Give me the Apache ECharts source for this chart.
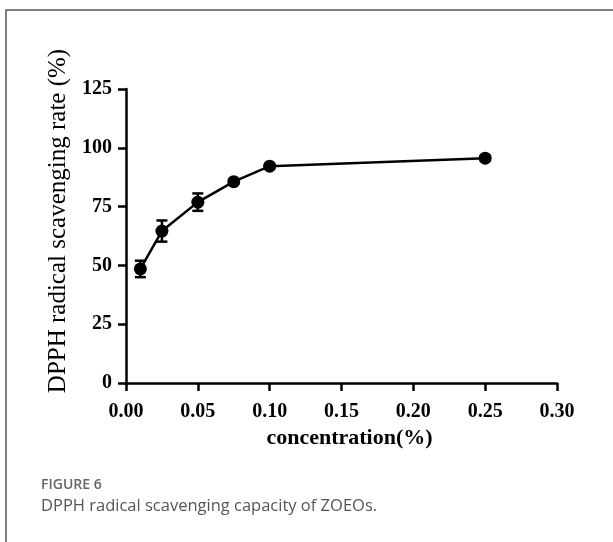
<!DOCTYPE html>
<html><head><meta charset="utf-8">
<script src="https://cdn.jsdelivr.net/npm/echarts@6/dist/echarts.min.js"></script>
<style>html,body{margin:0;padding:0;background:#fff}#c{width:613px;height:542px}</style>
</head><body><div id="c"></div>
<script>
const concentrations = [0.01, 0.025, 0.05, 0.075, 0.1, 0.25];
const scavengingRate = [48.5, 64.6, 76.9, 85.6, 92.2, 95.6];
const errorSD = [3.5, 4.5, 3.7, 1.0, 1.0, 1.0];
const xTicks = ['0.00','0.05','0.10','0.15','0.20','0.25','0.30'];
const yTicks = [0, 25, 50, 75, 100, 125];

const chart = echarts.init(document.getElementById('c'));
const pts = concentrations.map((x,i)=>[x, scavengingRate[i]]);
const errs = concentrations.map((x,i)=>[x, scavengingRate[i]-errorSD[i], scavengingRate[i]+errorSD[i]]);
const serif = '"Liberation Serif", "Times New Roman", serif';
chart.setOption({
  animation:false,
  backgroundColor:'#fff',
  grid:{left:126,right:56,top:89,bottom:159,containLabel:false},
  xAxis:{type:'value',min:0,max:0.3,interval:0.05,
    name:'concentration(%)',nameLocation:'middle',nameGap:40,
    nameTextStyle:{fontFamily:serif,fontWeight:'bold',fontSize:22,color:'#000',padding:[0,0,0,16]},
    axisLine:{lineStyle:{color:'#000',width:2.5}},
    axisTick:{show:true,length:8,lineStyle:{color:'#000',width:2.5}},
    axisLabel:{fontFamily:serif,fontWeight:'bold',fontSize:20,color:'#000',margin:19,
      formatter:(v)=>xTicks[Math.round(v/0.05)]},
    splitLine:{show:false}},
  yAxis:{type:'value',min:0,max:125,interval:25,
    name:'DPPH radical scavenging rate (%)',nameLocation:'middle',nameGap:54,
    nameTextStyle:{fontFamily:serif,fontSize:25,color:'#000',padding:[0,0,0,30]},
    axisLine:{show:true,lineStyle:{color:'#000',width:2.5}},
    axisTick:{show:true,length:8,lineStyle:{color:'#000',width:2.5}},
    axisLabel:{fontFamily:serif,fontWeight:'bold',fontSize:20,color:'#000',margin:14,
      formatter:(v)=>String(yTicks[Math.round(v/25)])},
    splitLine:{show:false}},
  graphic:[
    {type:'rect',shape:{x:6,y:10,width:700,height:600},style:{fill:'none',stroke:'#555',lineWidth:1.5},silent:true},
    {type:'text',left:41,top:478,style:{text:'FIGURE 6',font:'600 14px "Open Sans", sans-serif',fill:'#666'}},
    {type:'text',left:41,top:498,style:{text:'DPPH radical scavenging capacity of ZOEOs.',font:'16.5px "Open Sans", sans-serif',fill:'#555'}}
  ],
  series:[
    {type:'custom',data:errs,z:3,
      renderItem:(params,api)=>{
        const x=api.value(0);
        const lo=api.coord([x,api.value(1)]);
        const hi=api.coord([x,api.value(2)]);
        const w=5.5;
        return {type:'group',children:[
          {type:'line',shape:{x1:lo[0],y1:lo[1],x2:hi[0],y2:hi[1]},style:{stroke:'#000',lineWidth:2.5}},
          {type:'line',shape:{x1:lo[0]-w,y1:lo[1],x2:lo[0]+w,y2:lo[1]},style:{stroke:'#000',lineWidth:2.5}},
          {type:'line',shape:{x1:hi[0]-w,y1:hi[1],x2:hi[0]+w,y2:hi[1]},style:{stroke:'#000',lineWidth:2.5}}
        ]};
      }},
    {type:'line',data:pts,symbol:'circle',symbolSize:13,z:4,
      lineStyle:{color:'#000',width:2.5},itemStyle:{color:'#000'}}
  ]
});
</script></body></html>
